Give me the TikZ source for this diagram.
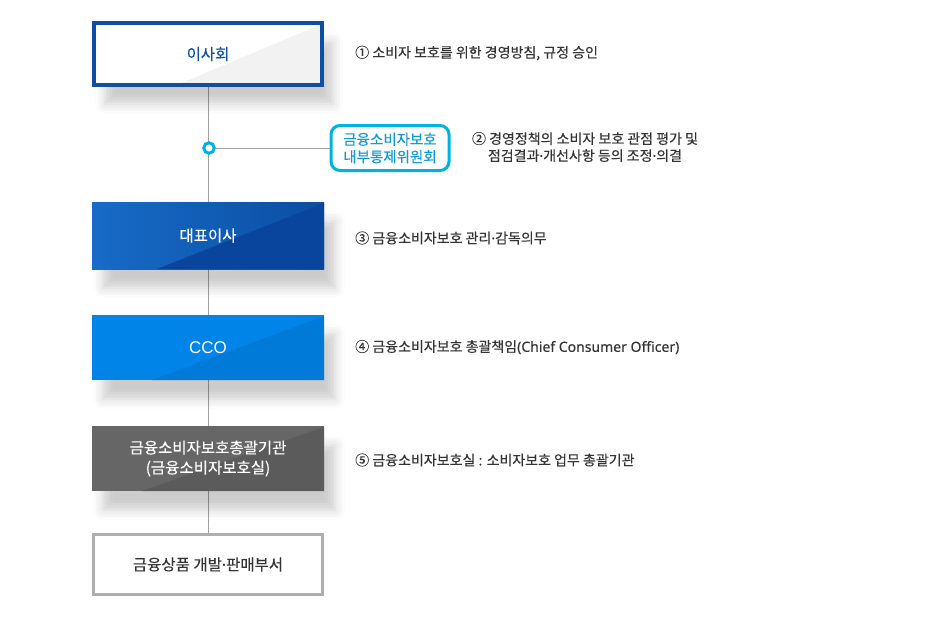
\documentclass[tikz,border=0pt]{standalone}
\usepackage{fontspec}
\setmainfont{Noto Sans CJK KR}[FakeBold=0.25]
\newfontfamily\latinf{Noto Sans}[FakeBold=0.25]
\newfontfamily\arialf{Liberation Sans}
\newcommand\mdot{{\latinf ·}}
\usetikzlibrary{shadows.blur}
\definecolor{bdblue}{HTML}{0D4EA6}
\definecolor{cyanb}{HTML}{00B2E3}
\definecolor{cyant}{HTML}{0E9AD4}
\definecolor{ceoA}{HTML}{176BC6}
\definecolor{ceoB}{HTML}{0B4EA4}
\definecolor{ceoT}{HTML}{0A459D}
\definecolor{ccoF}{HTML}{0084E8}
\definecolor{ccoT}{HTML}{007AD9}
\definecolor{grF}{HTML}{666666}
\definecolor{grT}{HTML}{5B5B5B}
\definecolor{lineg}{HTML}{A0A0A0}
\definecolor{txt}{HTML}{333333}
\definecolor{triW}{HTML}{F2F2F2}
\tikzset{
  boxshadow/.style={blur shadow={shadow xshift=11pt, shadow yshift=-19pt, shadow blur radius=10pt, shadow opacity=20}},
  tri/.style 2 args={path picture={\fill[#1] ([xshift=#2]path picture bounding box.south west) -- (path picture bounding box.south east) -- ([yshift=-1pt]path picture bounding box.north east) -- cycle;}},
  orgbox/.style={rectangle, inner sep=0pt, font=\fontsize{15.5}{20}\selectfont, align=center},
  desc/.style={anchor=west, inner sep=0pt, text=txt, font=\fontsize{14}{17}\selectfont},
  conn/.style={draw=lineg, line width=1pt}
}
\begin{document}
\begin{tikzpicture}[x=1pt, y=-1pt]
\useasboundingbox (0,0) rectangle (944,619);
% connectors (behind)
\node[orgbox, minimum width=228pt, minimum height=62pt] (isa) at (208,54) {};
\node[orgbox, minimum width=232pt, minimum height=67pt] (ceo) at (208,235.5) {};
\node[orgbox, minimum width=232pt, minimum height=65pt] (cco) at (208,347.5) {};
\node[orgbox, minimum width=232pt, minimum height=65pt] (cpo) at (208,458.5) {};
\node[orgbox, minimum width=229pt, minimum height=60pt] (dept) at (208,564.5) {};
\draw[conn] (isa.south) -- (ceo.north);
\draw[conn] (ceo.south) -- (cco.north);
\draw[conn] (cco.south) -- (cpo.north);
\draw[conn] (cpo.south) -- (dept.north);
% boxes
\node[orgbox, boxshadow, fill=white, draw=bdblue, line width=4pt, text=bdblue,
  tri={triW}{83pt}, minimum width=228pt, minimum height=62pt] at (208,54) {이사회};
\node[orgbox, boxshadow, left color=ceoA, right color=ceoB, text=white,
  tri={ceoT}{65pt}, minimum width=232pt, minimum height=67pt] at (208,235.5) {대표이사};
\node[orgbox, boxshadow, fill=ccoF, text=white,
  tri={ccoT}{60pt}, minimum width=232pt, minimum height=65pt] at (208,347.5) {\arialf\fontsize{17}{20}\selectfont CCO};
\node[orgbox, boxshadow, fill=grF, text=white,
  tri={grT}{50pt}, minimum width=232pt, minimum height=65pt] at (208,458.5) {금융소비자보호총괄기관\\(금융소비자보호실)};
\node[orgbox, fill=white, draw=lineg!85!white, line width=3pt, text=txt,
  minimum width=229pt, minimum height=60pt] at (208,564.5) {금융상품 개발\mdot 판매부서};
% committee
\node[orgbox, draw=cyanb, line width=3pt, rounded corners=9pt, fill=white, text=cyant,
  font=\fontsize{14.5}{17.5}\selectfont, minimum width=118pt, minimum height=45pt] (cmt) at (390,148) {금융소비자보호\\내부통제위원회};
\node[circle, draw=cyanb, line width=3pt, fill=white, minimum size=10.5pt, inner sep=0pt] (junc) at (209,148) {};
\draw[conn] (junc.east) -- (cmt.west);
% descriptions
\node[desc] (d1) at (355,53) {① 소비자 보호를 위한 경영방침, 규정 승인};
\node[desc, anchor=center, align=center] (d2) at (585,147) {② 경영정책의 소비자 보호 관점 평가 및\\점검결과\mdot 개선사항 등의 조정\mdot 의결};
\node[desc] (d3) at (355,238) {③ 금융소비자보호 관리\mdot 감독의무};
\node[desc] (d4) at (355,347) {④ 금융소비자보호 총괄책임{\latinf (Chief Consumer Officer)}};
\node[desc] (d5) at (355,460) {⑤ 금융소비자보호실 : 소비자보호 업무 총괄기관};
\end{tikzpicture}
\end{document}
